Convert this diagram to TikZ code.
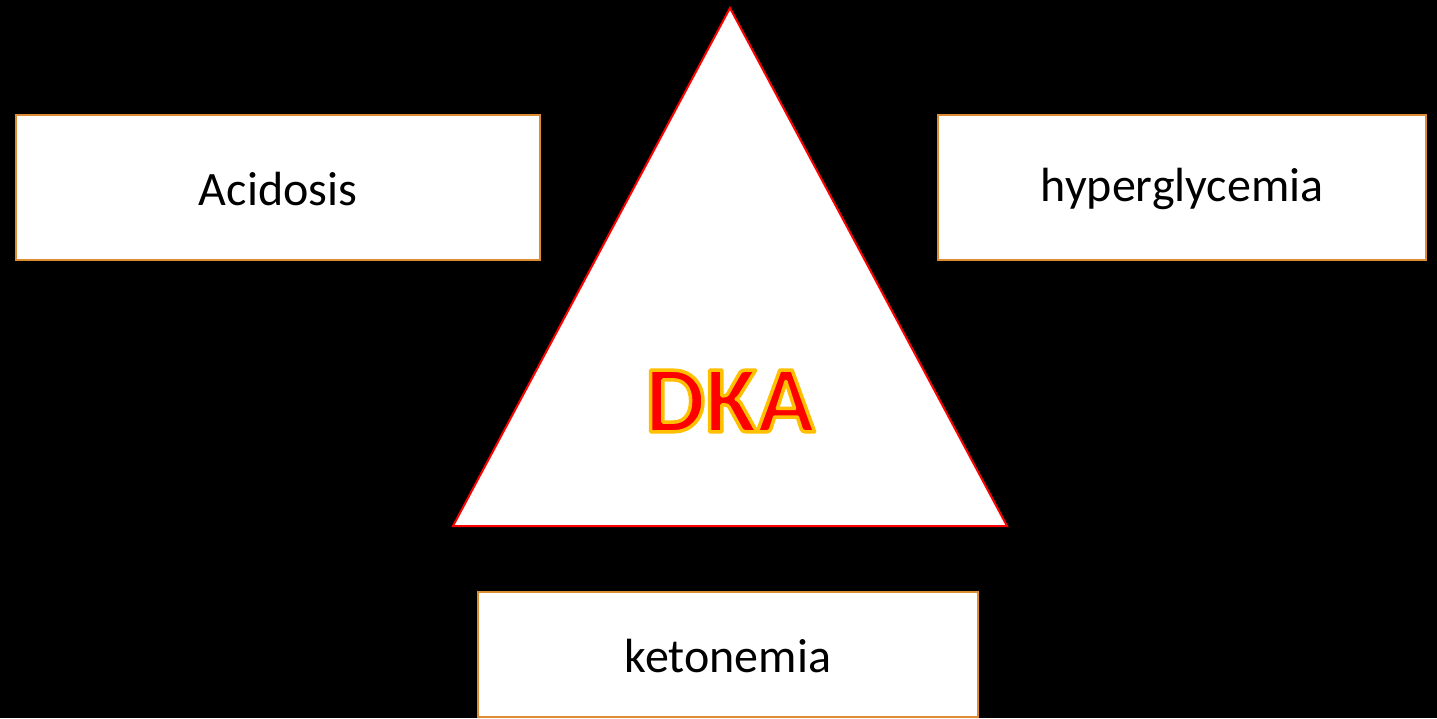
\documentclass[tikz,border=0pt]{standalone}
\usepackage{fontspec}
\setmainfont{Carlito}
\definecolor{boxedge}{RGB}{220,140,50}
\tikzset{
  labelbox/.style={draw=boxedge, line width=2.5pt, fill=white, inner sep=0pt, font=\fontsize{48}{56}\selectfont}
}
\newcommand{\lowertext}[1]{\raisebox{-1.5pt}[\height][\depth]{#1}}
\newcommand{\outlinedtext}[1]{\special{pdf:literal 1 0.753 0 RG 3.5 w 1 j 2 Tr}#1\special{pdf:literal 0 Tr}}
\begin{document}
\begin{tikzpicture}[x=1pt,y=-1pt]
\fill[black] (0,0) rectangle (1437,718);
\useasboundingbox (0,0) rectangle (1437,718);
\node[labelbox, minimum width=524pt, minimum height=145pt] (acid) at (278,187.5) {\lowertext{Acidosis}};
\node[labelbox, minimum width=488pt, minimum height=145pt] (hyper) at (1182,187.5) {\lowertext{hyperglycemia}};
\node[labelbox, minimum width=500pt, minimum height=125pt] (keto) at (728,654.5) {\lowertext{ketonemia}};
\coordinate (apex) at (730,8);
\coordinate (bl) at (453,526);
\coordinate (br) at (1007,526);
\draw[red, line width=2pt, fill=white] (apex) -- (bl) -- (br) -- cycle;
\node[font=\fontsize{95}{100}\selectfont\bfseries, text=red] (dka) at (730,401) {\outlinedtext{DKA}};
\end{tikzpicture}
\end{document}
